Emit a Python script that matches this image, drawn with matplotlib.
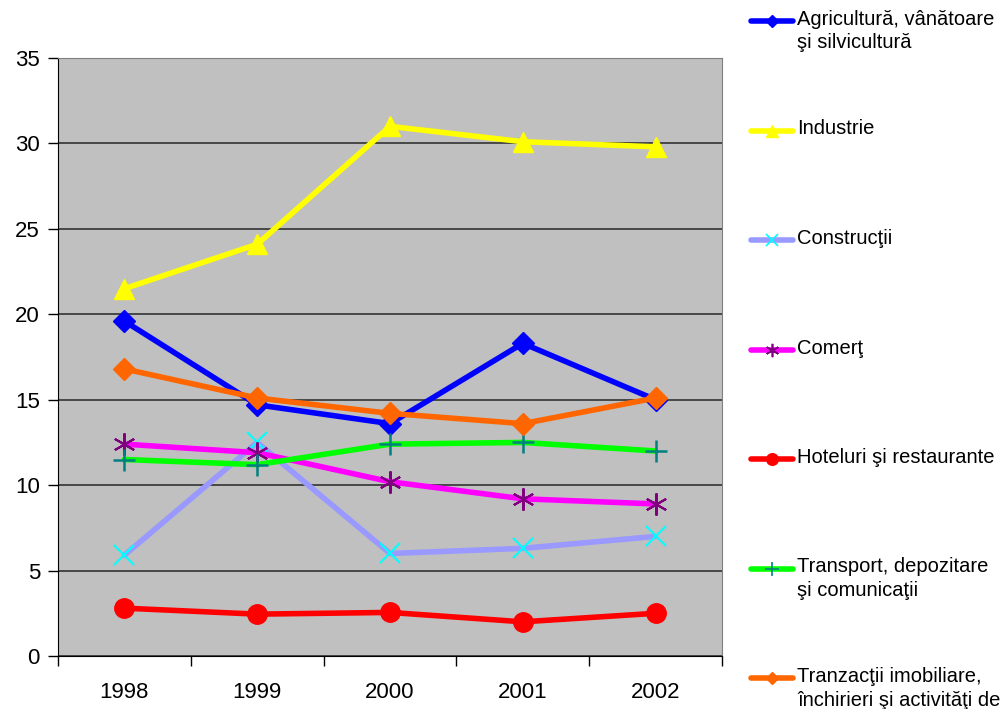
import numpy as np
import matplotlib.pyplot as plt
from matplotlib.lines import Line2D

plt.rcParams['font.family'] = ['Liberation Sans', 'DejaVu Sans']

# -----------------------------
# Data
# -----------------------------
years = ["1998", "1999", "2000", "2001", "2002"]

agricultura = [19.6, 14.7, 13.6, 18.3, 15.0]
industrie = [21.5, 24.1, 31.0, 30.1, 29.8]
constructii = [5.9, 12.5, 6.0, 6.3, 7.0]
comert = [12.4, 11.9, 10.2, 9.2, 8.9]
hoteluri = [2.8, 2.45, 2.55, 2.0, 2.5]
transport = [11.5, 11.2, 12.4, 12.5, 12.0]
tranzactii = [16.8, 15.1, 14.2, 13.6, 15.1]

labels = [
    "Agricultură, vânătoare\nşi silvicultură",
    "Industrie",
    "Construcţii",
    "Comerţ",
    "Hoteluri şi restaurante",
    "Transport, depozitare\nşi comunicaţii",
    "Tranzacţii imobiliare,\nînchirieri şi activităţi de",
]

asterisk = (6, 2, 0)
styles = [
    dict(color="#0000FF", marker="D", ms=11, mfc="#0000FF", mec="#0000FF"),
    dict(color="#FFFF00", marker="^", ms=14, mfc="#FFFF00", mec="#FFFF00"),
    dict(color="#9999FF", marker="x", ms=14, mfc="none", mec="#00FFFF", mew=1.5),
    dict(color="#FF00FF", marker=asterisk, ms=16, mfc="none", mec="#800080", mew=1.5),
    dict(color="#FF0000", marker="o", ms=14, mfc="#FF0000", mec="#FF0000"),
    dict(color="#00FF00", marker="+", ms=16, mfc="none", mec="#008080", mew=1.8),
    dict(color="#FF6600", marker="D", ms=11, mfc="#FF6600", mec="#FF6600"),
]
series = [agricultura, industrie, constructii, comert, hoteluri, transport, tranzactii]

# -----------------------------
# Figure
# -----------------------------
fig = plt.figure(figsize=(10.06, 7.09), dpi=100)
ax = fig.add_axes([58 / 1006, 53 / 709, 664 / 1006, 598 / 709])
ax.set_facecolor("#C0C0C0")

x = np.arange(len(years))
for vals, st in zip(series, styles):
    ax.plot(x, vals, lw=4, solid_joinstyle="round", solid_capstyle="round",
            clip_on=False, **st)

ax.set_xlim(-0.5, len(years) - 0.5)
ax.set_ylim(0, 35)
ax.set_yticks(np.arange(0, 36, 5))
ax.yaxis.grid(True, color="#333333", lw=1.2)
ax.set_axisbelow(True)

ax.set_xticks(x)
ax.set_xticklabels(years)
ax.set_xticks(np.arange(-0.5, len(years), 1), minor=True)
ax.tick_params(axis="x", which="major", length=0, pad=19, labelsize=16)
ax.tick_params(axis="x", which="minor", length=7, width=1, direction="out")
ax.tick_params(axis="y", length=7, width=1, direction="out", labelsize=16, pad=6)

for s in ["top", "right"]:
    ax.spines[s].set_color("#808080")
for s in ["left", "bottom"]:
    ax.spines[s].set_color("black")

# -----------------------------
# Legend (Excel style, drawn by hand)
# -----------------------------
lg = fig.add_axes([0, 0, 1, 1], facecolor="none")
lg.set_xlim(0, 1006)
lg.set_ylim(709, 0)
lg.axis("off")
y0 = 21
step = 109.5
for i, (lab, st) in enumerate(zip(labels, styles)):
    yy = y0 + i * step
    leg_st = dict(st)
    leg_st["ms"] = st["ms"] * 0.6
    leg_st["mew"] = min(st.get("mew", 1.0), 1.2)
    lg.add_line(Line2D([751, 772, 793], [yy, yy, yy], lw=4, solid_capstyle="round",
                       markevery=[1], **leg_st))
    lg.text(797, yy - 11, lab, fontsize=14.5, va="top", ha="left",
            linespacing=1.3, clip_on=False)

fig.savefig("out.png", dpi=100)
